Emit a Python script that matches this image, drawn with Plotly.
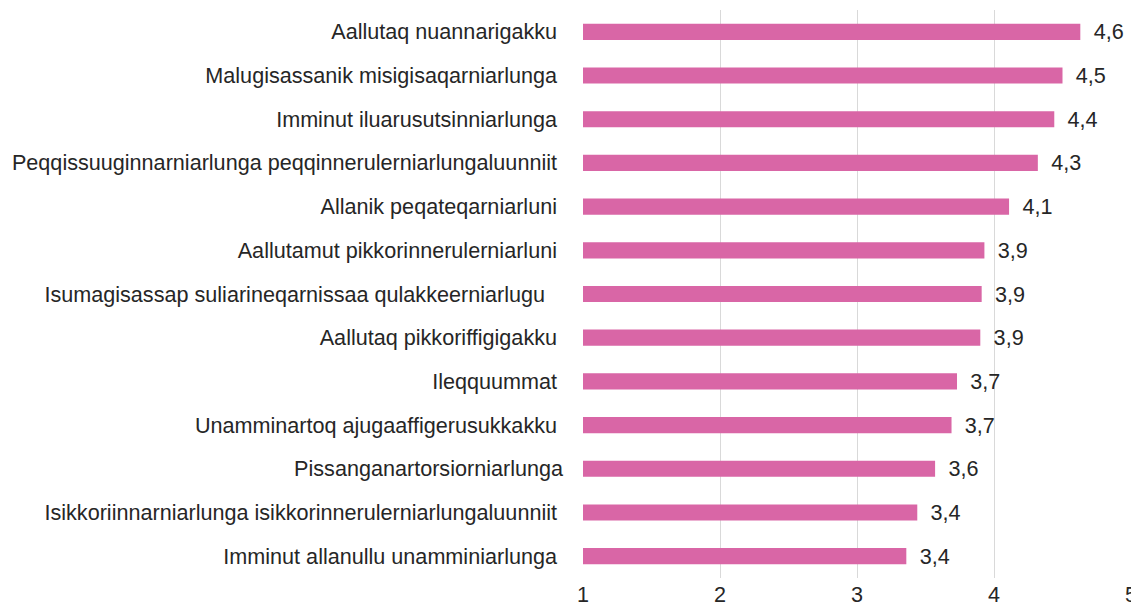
import plotly.graph_objects as go

categories = [
    "Aallutaq nuannarigakku",
    "Malugisassanik misigisaqarniarlunga",
    "Imminut iluarusutsinniarlunga",
    "Peqqissuuginnarniarlunga peqqinnerulerniarlungaluunniit",
    "Allanik peqateqarniarluni",
    "Aallutamut pikkorinnerulerniarluni",
    "Isumagisassap suliarineqarnissaa qulakkeerniarlugu",
    "Aallutaq pikkoriffigigakku",
    "Ileqquummat",
    "Unamminartoq ajugaaffigerusukkakku",
    "Pissanganartorsiorniarlunga",
    "Isikkoriinnarniarlunga isikkorinnerulerniarlungaluunniit",
    "Imminut allanullu unamminiarlunga",
]
values = [4.63, 4.50, 4.44, 4.32, 4.11, 3.93, 3.91, 3.90, 3.73, 3.69, 3.57, 3.44, 3.36]
label_pad = [1, 1, 1, 1, 1, 1, 3, 1, 1, 1, 0, 1, 1]

tick_text = [c + "\u00a0" * p for c, p in zip(categories, label_pad)]

FONT = "Liberation Sans, Arial, sans-serif"
FS = 21.6

fig = go.Figure(
    go.Bar(
        x=values,
        y=categories,
        orientation="h",
        marker=dict(color="#D966A6", line=dict(width=0)),
        texttemplate="\u00a0\u2009%{x:.1f}",
        textposition="outside",
        constraintext="none",
        textfont=dict(family=FONT, size=FS, color="#262626"),
        cliponaxis=False,
    )
)

# page body has an 8px default margin, so the figure is offset by 8px
fig.update_layout(
    width=1131,
    height=601,
    margin=dict(l=575, r=8, t=2, b=31),
    plot_bgcolor="white",
    paper_bgcolor="white",
    separators=", ",
    bargap=0.63,
    showlegend=False,
    font=dict(family=FONT, size=FS, color="#262626"),
)
fig.update_xaxes(
    range=[1, 5],
    tickvals=[1, 2, 3, 4, 5],
    showgrid=True,
    gridcolor="#D9D9D9",
    gridwidth=1,
    zeroline=False,
    showline=False,
    ticks="",
    automargin=False,
    ticklabelstandoff=1,
    tickfont=dict(family=FONT, size=FS, color="#262626"),
)
fig.update_yaxes(
    autorange="reversed",
    tickvals=categories,
    ticktext=tick_text,
    showgrid=False,
    showline=False,
    ticks="",
    automargin=False,
    ticklabelstandoff=19,
    tickfont=dict(family=FONT, size=FS, color="#262626"),
)

fig.write_html("out.html")
